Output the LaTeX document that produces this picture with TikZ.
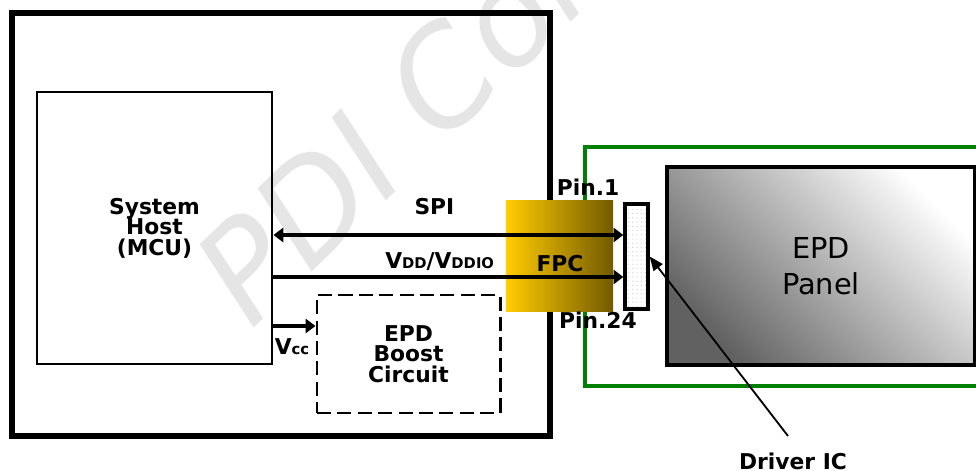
\documentclass[tikz,border=0pt]{standalone}
\usepackage{fontspec}
\setmainfont{DejaVu Sans}
\usetikzlibrary{positioning, arrows.meta, patterns}

\definecolor{fpcyellow}{RGB}{255,204,0}
\definecolor{fpcbrown}{RGB}{115,90,0}
\definecolor{boardgreen}{RGB}{0,128,0}
\newcommand{\lblfont}{\fontsize{15.5}{14.6}\selectfont\bfseries\lineskiplimit=-20pt}
\newcommand{\panelfont}{\fontsize{20.5}{26}\selectfont}
\newcommand{\subtxt}[1]{{\fontsize{10.5}{10.5}\selectfont #1}}

\begin{document}
\begin{tikzpicture}[
        x=0.025cm, y=-0.025cm,
        lbl/.style={font=\lblfont, align=center},
        frame/.style={draw, line width=4.3pt},
        greenframe/.style={draw=boardgreen, line width=2.4pt},
        hostbox/.style={draw, line width=2pt, minimum width=5.875cm, minimum height=6.8cm, align=center, font=\lblfont},
        boostbox/.style={draw, dash pattern=on 10pt off 4.5pt, line width=2.1pt, minimum width=4.575cm, minimum height=2.95cm, align=center, font=\lblfont},
        fpcbox/.style={minimum width=2.675cm, minimum height=2.75cm, left color=fpcyellow, right color=fpcbrown},
        icbox/.style={draw, line width=2.3pt, minimum width=0.575cm, minimum height=2.625cm, preaction={fill=white}, pattern=dots, pattern color=black!18},
        panelbox/.style={draw, line width=2.5pt, minimum width=7.7cm, minimum height=4.95cm, top color=white, bottom color=black!62, shading angle=-45, align=center, font=\panelfont},
        arrow/.style={-{Triangle[length=7pt, width=10pt]}, line width=2.2pt},
        dbl_arrow/.style={arrow, {Triangle[length=7pt, width=10pt]}-{Triangle[length=7pt, width=10pt]}},
        pointer/.style={-{Triangle[length=10pt, width=8pt]}, line width=1.3pt},
        watermark/.style={text=black!10, inner sep=0pt, font=\fontsize{95}{95}\selectfont\itshape}
    ]
    \useasboundingbox (0,0) rectangle (976,471);
    \clip (0,0) rectangle (976,471);

    % watermark
    \node[watermark, rotate=44, anchor=base west] (mark) at (251,331) {PDI Con};

    % frames
    \draw[frame] (12,13) rectangle (550,436);
    \draw[greenframe] (585,147) rectangle (990,386);

    % blocks
    \node[hostbox] (host) at (154.5,228) {System\\Host\\(MCU)};
    \node[boostbox] (boost) at (408.5,354) {EPD\\Boost\\Circuit};
    \node[fpcbox] (fpc) at (559.5,256) {};
    \node[lbl] (fpc_label) at (560,264) {FPC};
    \node[icbox] (drv) at (636.5,256.5) {};
    \node[panelbox] (panel) at (821,266) {EPD\\Panel};

    % pin labels
    \node[lbl] (pin_first) at (588,187) {Pin.1};
    \node[lbl] (pin_last) at (598,320) {Pin.24};

    % signal and power lines
    \draw[dbl_arrow] (host.east |- 0,235) -- (drv.west |- 0,235) node[pos=0.46, above=10pt, lbl] {SPI};
    \draw[arrow] (host.east |- 0,277) -- (drv.west |- 0,277) node[pos=0.475, above=0pt, lbl] {V\subtxt{DD}/V\subtxt{DDIO}};
    \draw[arrow] (host.east |- 0,326) -- (boost.west |- 0,326) node[pos=0.44, below=4.5pt, lbl] {V\subtxt{cc}};

    % driver IC callout
    \coordinate (ic_tail) at (788,436);
    \node[lbl] (ic_label) at (793,461) {Driver IC};
    \draw[pointer] (ic_tail) -- (drv.east);
\end{tikzpicture}
\end{document}
